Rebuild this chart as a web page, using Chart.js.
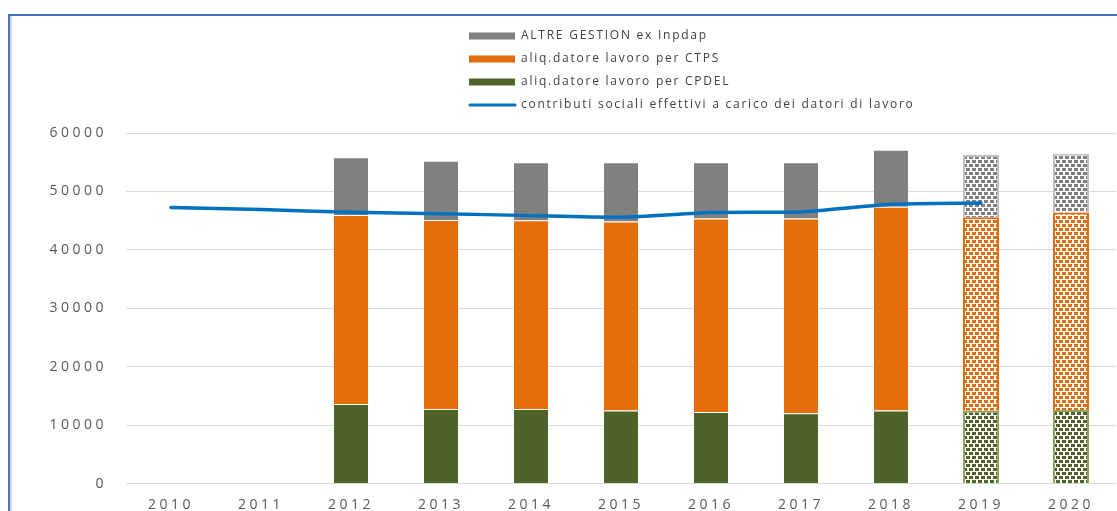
<!DOCTYPE html>
<html>
<head>
<meta charset="utf-8">
<script src="https://cdn.jsdelivr.net/npm/chart.js@4/dist/chart.umd.min.js"></script>
<style>
html,body{margin:0;padding:0;background:#fff;}
#wrap{position:relative;width:1117px;height:511px;}
</style>
</head>
<body>
<div id="wrap"><canvas id="c"></canvas></div>
<script>
// ---- data ----
const years = ['2010','2011','2012','2013','2014','2015','2016','2017','2018','2019','2020'];
const cpdel = [null, null, 13620, 12770, 12770, 12530, 12250, 12020, 12530, 12480, 12600];
const ctps  = [null, null, 32360, 32360, 32310, 32310, 33100, 33330, 34870, 33110, 33780];
const altre = [null, null,  9870, 10140,  9910, 10150,  9640,  9640,  9750, 10650, 10080];
const contributi = [47230, 46890, 46440, 46200, 45860, 45590, 46380, 46500, 47810, 48030, null];
const projectedYears = ['2019', '2020'];
const yTickValues = [0, 10000, 20000, 30000, 40000, 50000, 60000];

const labelAltre = 'ALTRE GESTION ex Inpdap';
const labelCtps = 'aliq.datore lavoro per CTPS';
const labelCpdel = 'aliq.datore lavoro per CPDEL';
const labelContributi = 'contributi sociali effettivi a carico dei datori di lavoro';

// ---- styles ----
function makePattern(color){
  const c = document.createElement('canvas');
  c.width = 6; c.height = 8;
  const x = c.getContext('2d');
  x.fillStyle = '#ffffff'; x.fillRect(0,0,6,8);
  x.fillStyle = color;
  [[0,0,4,3],[3,4,3,3],[0,4,1,3]].forEach(r => x.fillRect(r[0],r[1],r[2],r[3]));
  return x.createPattern(c,'repeat');
}
const isProj = (ctx) => projectedYears.includes(years[ctx.dataIndex]);
function barStyle(color, projBorder){
  const pat = makePattern(color);
  return {
    backgroundColor: (ctx) => isProj(ctx) ? pat : color,
    borderColor: (ctx) => isProj(ctx) ? projBorder : 'rgba(255,255,255,0.35)',
    borderWidth: (ctx) => isProj(ctx) ? 2 : 1,
  };
}

const frameAndSpacing = {
  id: 'frameAndSpacing',
  beforeDraw(chart){
    const ctx = chart.ctx;
    if (!ctx.__lsPatched) {
      const orig = ctx.fillText;
      ctx.fillText = function(){
        if (this.__ls) this.letterSpacing = this.__ls;
        return orig.apply(this, arguments);
      };
      ctx.__lsPatched = true;
    }
    ctx.save();
    ctx.fillStyle = '#4472C4';
    ctx.fillRect(8, 14, 2, 500);
    ctx.fillRect(8, 14, 1120, 2);
    ctx.fillStyle = '#d4d4d4';
    ctx.fillRect(10, 16, 2, 500);
    ctx.restore();
    ctx.__ls = '3.5px';
  },
  beforeDatasetsDraw(chart){
    chart.ctx.__ls = null;
    chart.ctx.letterSpacing = '0px';
  }
};

const vLegend = {
  id: 'vLegend',
  afterDraw(chart){
    const ctx = chart.ctx;
    const ds = chart.data.datasets;
    const order = [3, 2, 1, 0];
    const x0 = 469, boxW = 46, boxH = 7, y0 = 36, step = 23;
    ctx.save();
    ctx.font = '12px "Open Sans"';
    ctx.letterSpacing = '1.75px';
    ctx.textBaseline = 'middle';
    ctx.textAlign = 'left';
    order.forEach((i, k) => {
      const d = ds[i];
      const y = y0 + k * step;
      if (d.type === 'line') {
        ctx.strokeStyle = d.borderColor;
        ctx.lineWidth = 3;
        ctx.lineCap = 'round';
        ctx.beginPath(); ctx.moveTo(x0 + 1, y); ctx.lineTo(x0 + boxW, y); ctx.stroke();
      } else {
        ctx.fillStyle = d.legendColor;
        ctx.fillRect(x0, y - boxH / 2, boxW, boxH);
      }
      ctx.fillStyle = '#404040';
      ctx.fillText(d.label, x0 + boxW + 6, y);
    });
    ctx.restore();
  }
};

new Chart(document.getElementById('c'), {
  data: {
    labels: years,
    datasets: [
      { type: 'line', label: labelContributi, data: contributi, borderColor: '#0070C0', backgroundColor: '#0070C0',
        borderWidth: 3.5, pointRadius: 0, tension: 0.2, order: 0, borderCapStyle: 'round' },
      Object.assign({ type: 'bar', label: labelCpdel, data: cpdel, order: 1, stack: 's', legendColor: '#4F6228' }, barStyle('#4F6228', '#8BA55E')),
      Object.assign({ type: 'bar', label: labelCtps, data: ctps, order: 1, stack: 's', legendColor: '#E46C0A' }, barStyle('#E46C0A', '#E46C0A')),
      Object.assign({ type: 'bar', label: labelAltre, data: altre, order: 1, stack: 's', legendColor: '#808080' }, barStyle('#808080', '#BFBFBF')),
    ]
  },
  options: {
    responsive: true,
    maintainAspectRatio: false,
    animation: false,
    devicePixelRatio: 1,
    layout: { padding: { top: 133, left: 0, right: 1, bottom: 0 } },
    datasets: { bar: { barPercentage: 0.4, categoryPercentage: 1.0 } },
    plugins: { legend: { display: false }, tooltip: { enabled: false } },
    scales: {
      x: {
        stacked: true,
        grid: { display: false },
        border: { display: false },
        ticks: { color: '#595959', font: { family: 'Open Sans', size: 14 }, padding: 5, autoSkip: false, maxRotation: 0 },
        afterFit: (s) => { s.height = 27; }
      },
      y: {
        stacked: true,
        min: 0, max: 60000,
        afterBuildTicks: (s) => { s.ticks = yTickValues.map(v => ({ value: v })); },
        grid: { color: '#d9d9d9', lineWidth: 1, drawTicks: false },
        border: { display: false },
        ticks: { color: '#595959', font: { family: 'Open Sans', size: 14 }, padding: 19, callback: (v) => String(v) },
        afterFit: (s) => { s.width = 126; }
      }
    }
  },
  plugins: [frameAndSpacing, vLegend]
});
</script>
</body>
</html>
